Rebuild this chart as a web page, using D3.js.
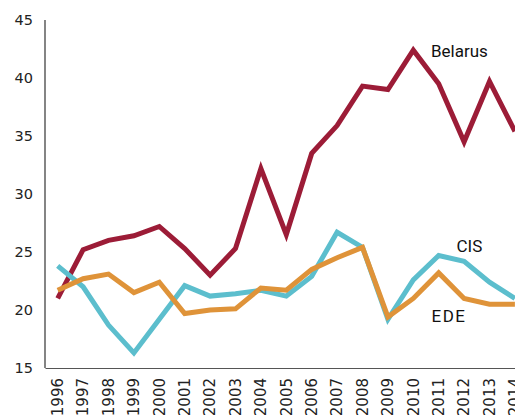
<!DOCTYPE html>
<html><head><meta charset="utf-8">
<script src="https://cdn.jsdelivr.net/npm/d3@7"></script>
<style>body{margin:0;background:#fff;overflow:hidden}</style>
</head><body>
<svg id="c" width="515" height="415"></svg>
<script>
const years = [1996,1997,1998,1999,2000,2001,2002,2003,2004,2005,2006,2007,2008,2009,2010,2011,2012,2013,2014];
const belarus = [21.0,25.2,26.0,26.4,27.2,25.3,23.0,25.3,32.2,26.5,33.5,35.9,39.3,39.0,42.4,39.5,34.5,39.7,35.4];
const cis = [23.8,22.0,18.7,16.3,19.2,22.1,21.2,21.4,21.7,21.2,22.9,26.7,25.4,19.2,22.6,24.7,24.2,22.4,21.0];
const ede = [21.7,22.7,23.1,21.5,22.4,19.7,20.0,20.1,21.9,21.7,23.5,24.5,25.4,19.4,21.0,23.2,21.0,20.5,20.5];
const yTicks = [15,20,25,30,35,40,45];
const seriesNames = ["Belarus","CIS","EDE"];

const svg = d3.select("#c");
const x = d3.scaleBand().domain(years).range([45, 45 + 19*25.4]);
const y = d3.scaleLinear().domain([15,45]).range([368,20]);
const cx = d => x(d) + x.bandwidth()/2;

// y axis
const ya = svg.append("g").attr("transform","translate(45,0)")
  .call(d3.axisLeft(y).tickValues(yTicks).tickSize(0).tickPadding(12));
ya.select(".domain").attr("stroke","#333").attr("stroke-width",1.2).attr("d","M0,20V368");
ya.selectAll("text").attr("font-family","DejaVu Sans").attr("font-size",14.5).attr("fill","#222");

// x axis
const xa = svg.append("g").attr("transform","translate(0,368)")
  .call(d3.axisBottom(x).tickSize(0).tickFormat(d3.format("d")));
xa.select(".domain").attr("stroke","#555").attr("stroke-width",1.2);
xa.selectAll("text").attr("font-family","DejaVu Sans").attr("font-size",15).attr("fill","#222")
  .attr("transform","rotate(-90)").attr("text-anchor","end").attr("dy","0.35em").attr("x",-10).attr("y",0);

const line = d3.line().x((d,i)=>cx(years[i])).y(d=>y(d));
const data = [belarus, cis, ede];
const colors = ["#9c1c37","#5cbecd","#df9339"];
data.forEach((s,k)=>{
  svg.append("path").datum(s).attr("d",line).attr("fill","none")
    .attr("stroke",colors[k]).attr("stroke-width",5).attr("stroke-linejoin","miter");
});

const lf = "Roboto, 'Noto Sans', sans-serif";
svg.append("text").attr("x",431).attr("y",57).text(seriesNames[0])
  .attr("font-family",lf).attr("font-size",17).attr("fill","#111");
svg.append("text").attr("x",456.5).attr("y",252).text(seriesNames[1])
  .attr("font-family",lf).attr("font-size",17).attr("fill","#111");
svg.append("text").attr("x",431.5).attr("y",322).text(seriesNames[2])
  .attr("font-family",lf).attr("font-size",17).attr("letter-spacing",1.5).attr("fill","#111");
</script>
</body></html>
